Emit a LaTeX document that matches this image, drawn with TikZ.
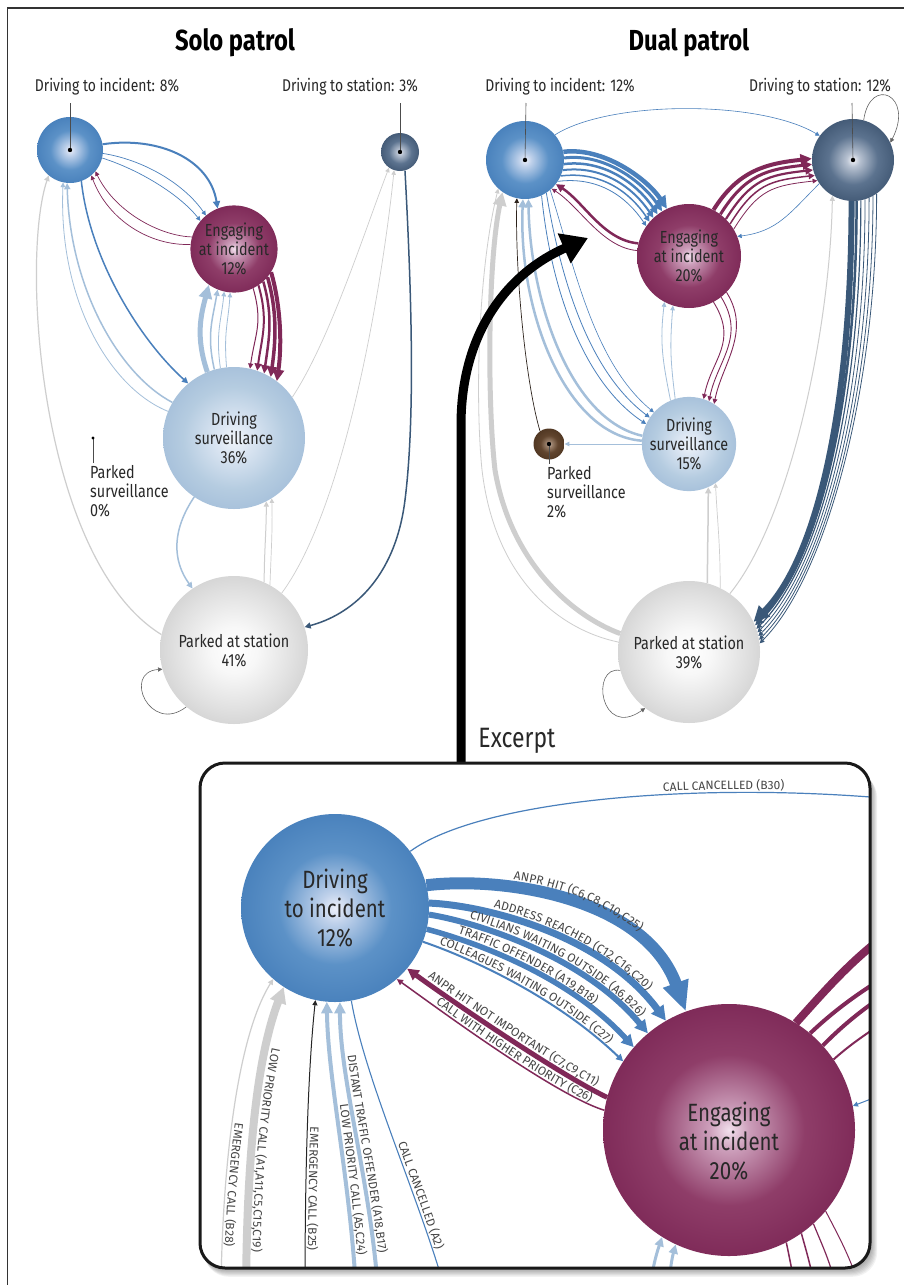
\documentclass[tikz,border=0pt]{standalone}
\usepackage{fontspec}
\setmainfont{Fira Sans}[FakeStretch=0.82]
\newfontfamily\labfont{Fira Sans}
\usetikzlibrary{arrows.meta,decorations.text}

\definecolor{cBlue}{RGB}{74,128,188}
\definecolor{cRed}{RGB}{128,40,88}
\definecolor{cSlate}{RGB}{58,88,120}
\definecolor{cLBlue}{RGB}{164,191,218}
\definecolor{cGray}{RGB}{206,206,206}
\definecolor{cDark}{RGB}{45,35,28}
\definecolor{cLoop}{RGB}{100,100,100}
\definecolor{cText}{RGB}{40,40,40}
\definecolor{cLab}{RGB}{70,70,70}

\pgfdeclareradialshading{diShade}{\pgfpoint{0bp}{0bp}}{rgb(0bp)=(0.93,0.94,0.98); rgb(4bp)=(0.75,0.82,0.92); rgb(15bp)=(0.36,0.57,0.78); rgb(25bp)=(0.29,0.51,0.74); rgb(50bp)=(0.29,0.51,0.74)}
\pgfdeclareradialshading{enShade}{\pgfpoint{0bp}{0bp}}{rgb(0bp)=(0.95,0.88,0.93); rgb(4bp)=(0.80,0.62,0.73); rgb(15bp)=(0.56,0.24,0.41); rgb(25bp)=(0.50,0.17,0.35); rgb(50bp)=(0.50,0.17,0.35)}
\pgfdeclareradialshading{dsShade}{\pgfpoint{0bp}{0bp}}{rgb(0bp)=(0.96,0.96,0.98); rgb(4bp)=(0.72,0.76,0.82); rgb(15bp)=(0.36,0.45,0.56); rgb(25bp)=(0.27,0.36,0.47); rgb(50bp)=(0.27,0.36,0.47)}
\pgfdeclareradialshading{svShade}{\pgfpoint{0bp}{0bp}}{rgb(0bp)=(0.94,0.96,0.98); rgb(6bp)=(0.86,0.90,0.95); rgb(18bp)=(0.71,0.80,0.88); rgb(25bp)=(0.66,0.76,0.86); rgb(50bp)=(0.66,0.76,0.86)}
\pgfdeclareradialshading{pkShade}{\pgfpoint{0bp}{0bp}}{rgb(0bp)=(1,1,1); rgb(8bp)=(0.97,0.97,0.97); rgb(20bp)=(0.88,0.88,0.88); rgb(25bp)=(0.84,0.84,0.84); rgb(50bp)=(0.84,0.84,0.84)}
\pgfdeclareradialshading{psShade}{\pgfpoint{0bp}{0bp}}{rgb(0bp)=(0.90,0.86,0.82); rgb(4bp)=(0.62,0.52,0.44); rgb(14bp)=(0.38,0.27,0.18); rgb(25bp)=(0.32,0.22,0.14); rgb(50bp)=(0.32,0.22,0.14)}

\newcommand\elf{\labfont\fontsize{12}{12}\selectfont}
\newcommand\nlf{\fontsize{17.5}{19}\selectfont}
\newcommand\nxf{\fontsize{25}{29}\selectfont}
\newcommand\lblf{\fontsize{17}{19}\selectfont}
\newcommand\ttlf{\fontsize{29}{32}\selectfont\bfseries}

\tikzset{
  st/.style={circle, inner sep=0pt, minimum size=#1, align=center, text=cText, font=\nlf},
  ed/.style={-{Triangle[length=3pt 2.1,width=3pt 2]}},
  edr/.style={{Triangle[length=3pt 2.1,width=3pt 2]}-},
  edx/.style={-{Triangle[length=4pt 1.5,width=4pt 1.5]}},
  tl/.style={postaction={decorate, decoration={text along path, text color=cLab, #1}}},
  lbl/.style={font=\lblf, text=cText},
  pin/.style={line width=0.6pt, black!70},
}

\begin{document}
\begin{tikzpicture}[x=1pt,y=-1pt]
\useasboundingbox (0,0) rectangle (904,1285);
\fill[white] (0,0) rectangle (904,1285);
\draw[line width=1.3pt, black!80] (7.5,1290) -- (7.5,8) -- (910,8);

% ---------------- titles and labels
\node[font=\ttlf] (t1) at (235,43) {Solo patrol};
\node[font=\ttlf] (t2) at (689,43) {Dual patrol};
\node[lbl] (s-dil) at (107,87) {Driving to incident: 8\%};
\node[lbl] (s-dsl) at (350,87) {Driving to station: 3\%};
\node[lbl] (d-dil) at (560,87) {Driving to incident: 12\%};
\node[lbl] (d-dsl) at (820,87) {Driving to station: 12\%};
\coordinate (s-dip) at (70,103);
\coordinate (s-dsp) at (400,103);
\coordinate (d-dip) at (526,103);
\coordinate (d-dsp) at (852,103);

% ---------------- solo nodes
\node[st=66pt, shading=diShade] (s-di) at (70,150) {};
\node[st=38pt, shading=dsShade] (s-ds) at (400,152) {};
\node[st=83pt, shading=enShade] (s-en) at (234,249) {Engaging\\at incident\\12\%};
\node[st=142pt, shading=svShade] (s-sv) at (234,438) {Driving\\surveillance\\36\%};
\node[st=148pt, shading=pkShade] (s-pk) at (234,650) {Parked at station\\41\%};
\coordinate (s-ps) at (93,438);
\coordinate (s-psb) at (93,463);
\node[lbl, font=\nlf, anchor=north west, align=left, inner sep=0pt] (s-pst) at (90,465) {Parked\\surveillance\\0\%};

% ---------------- dual nodes
\node[st=78pt, shading=diShade] (d-di) at (525,160) {};
\node[st=82pt, shading=dsShade] (d-ds) at (853,160) {};
\node[st=104pt, shading=enShade] (d-en) at (689,256) {Engaging\\at incident\\20\%};
\node[st=92pt, shading=svShade] (d-sv) at (689,444) {Driving\\surveillance\\15\%};
\node[st=31pt, shading=psShade] (d-ps) at (549,444) {};
\node[st=142pt, shading=pkShade] (d-pk) at (689,652) {Parked at station\\39\%};
\coordinate (d-psb) at (549,464);
\node[lbl, font=\nlf, anchor=north west, align=left, inner sep=0pt] (d-pst) at (547,466) {Parked\\surveillance\\2\%};

% ---------------- solo edges
\draw[ed, cBlue, line width=2pt] (s-di.10) .. controls (160,136) and (210,160) .. (s-en.112);
\draw[ed, cBlue, line width=0.7pt] (s-di.-6) .. controls (145,160) and (185,185) .. (s-en.130);
\draw[ed, cBlue, line width=0.7pt] (s-di.-14) .. controls (140,170) and (180,195) .. (s-en.140);
\draw[ed, cRed, line width=0.7pt] (s-en.164) .. controls (160,236) and (115,212) .. (s-di.-40);
\draw[ed, cRed, line width=0.7pt] (s-en.174) .. controls (150,246) and (108,220) .. (s-di.-50);
\draw[ed, cBlue, line width=1.5pt] (s-di.-70) .. controls (90,260) and (140,340) .. (s-sv.130);
\draw[ed, cLBlue, line width=1.5pt] (s-sv.150) .. controls (120,375) and (70,290) .. (s-di.-95);
\draw[ed, cLBlue, line width=0.8pt] (s-sv.158) .. controls (110,388) and (58,300) .. (s-di.-102);
\draw[ed, cGray, line width=1.2pt] (s-pk.168) .. controls (40,560) and (20,260) .. (s-di.-130);
\draw[ed, cLBlue, line width=5pt] (s-sv.112) .. controls +(-12,-35) and +(-8,30) .. (s-en.-125);
\draw[ed, cLBlue, line width=1.5pt] (s-sv.106) .. controls +(-8,-35) and +(-5,30) .. (s-en.-112);
\draw[ed, cLBlue, line width=0.8pt] (s-sv.101) .. controls +(-5,-35) and +(-3,30) .. (s-en.-103);
\draw[ed, cLBlue, line width=0.8pt] (s-sv.96) .. controls +(-3,-35) and +(-2,30) .. (s-en.-95);
\foreach \a/\b/\w in {-64/77/1, -56/71/2, -48/65/2.5, -40/59/3.5, -32/53/4}{
  \draw[ed, cRed, line width=\w*1pt] (s-en.\a) .. controls +(10,35) and +(5,-35) .. (s-sv.\b);}
\draw[ed, cSlate, line width=1.5pt] (s-ds.-75) .. controls (412,300) and (415,420) .. (405,500) .. controls (395,580) and (350,615) .. (s-pk.18);
\draw[ed, cGray, line width=0.7pt] (s-sv.35) .. controls (330,340) and (365,230) .. (s-ds.-125);
\draw[ed, cGray, line width=0.7pt] (s-pk.50) .. controls (350,500) and (385,260) .. (s-ds.-108);
\draw[ed, cLBlue, line width=1.5pt] (s-sv.-124) .. controls (172,530) and (172,560) .. (s-pk.124);
\draw[ed, cGray, line width=1pt] (s-pk.66) .. controls +(0,-30) and +(0,30) .. (s-sv.-63);
\draw[ed, cGray, line width=0.7pt] (s-pk.61) .. controls +(1,-30) and +(1,30) .. (s-sv.-58);
\draw[ed, cLoop, line width=0.6pt] (s-pk.-130) .. controls (150,735) and (122,672) .. (s-pk.195);

% ---------------- dual edges
\draw[ed, cBlue, line width=0.6pt] (d-di.40) .. controls (610,100) and (760,100) .. (d-ds.144);
\draw[ed, cLoop, line width=0.6pt] (d-ds.75) .. controls (870,75) and (915,95) .. (d-ds.25);
\foreach \a/\b/\w in {12/115/4.5, 3/121/3, -6/127/2.5, -15/133/2, -24/139/1.5, -33/145/0.8}{
  \draw[ed, cBlue, line width=\w*1pt] (d-di.\a) .. controls +(40,-5) and +(-20,-30) .. (d-en.\b);}
\draw[ed, cRed, line width=2.5pt] (d-en.166) .. controls +(-35,-3) and +(28,18) .. (d-di.-38);
\draw[ed, cRed, line width=0.8pt] (d-en.174) .. controls +(-35,-3) and +(28,18) .. (d-di.-47);
\foreach \a/\b/\w in {62/178/4, 53/186/3, 45/194/2.2, 38/202/1.5, 31/210/0.8}{
  \draw[ed, cRed, line width=\w*1pt] (d-en.\a) .. controls +(25,-40) and +(-45,5) .. (d-ds.\b);}
\draw[ed, cBlue, line width=0.6pt] (d-ds.-145) .. controls +(-30,30) and +(40,-5) .. (d-en.22);
\draw[ed, cBlue, line width=0.8pt] (d-di.-65) .. controls +(10,100) and +(-60,-40) .. (d-sv.155);
\draw[ed, cBlue, line width=0.8pt] (d-di.-57) .. controls +(15,90) and +(-60,-45) .. (d-sv.146);
\draw[ed, cBlue, line width=0.6pt] (d-di.-50) .. controls +(25,80) and +(-60,-50) .. (d-sv.138);
\draw[ed, cLBlue, line width=2.5pt] (d-sv.170) .. controls (570,420) and (530,300) .. (d-di.-85);
\draw[ed, cLBlue, line width=2.5pt] (d-sv.176) .. controls (565,435) and (518,310) .. (d-di.-93);
\draw[ed, cDark, line width=0.7pt] (d-ps.125) .. controls (525,380) and (515,270) .. (d-di.-102);
\draw[ed, cGray, line width=5pt] (d-pk.165) .. controls (570,615) and (510,560) .. (495,470) .. controls (487,400) and (488,260) .. (d-di.-125);
\draw[ed, cGray, line width=0.8pt] (d-pk.172) .. controls (560,630) and (495,580) .. (482,470) .. controls (475,400) and (478,270) .. (d-di.-133);
\foreach \a/\b/\w in {-92/25/6, -85/22/2.5, -79/19/1.2, -73/16/0.8, -67/13/0.8, -61/10/0.8, -55/7/0.8}{
  \draw[ed, cSlate, line width=\w*1pt] (d-ds.\a) .. controls +(0,200) and +(65,-65) .. (d-pk.\b);}
\draw[ed, cGray, line width=1pt] (d-pk.55) .. controls (790,520) and (830,330) .. (d-ds.-120);
\draw[ed, cGray, line width=1.5pt] (d-pk.75) .. controls +(0,-40) and +(0,40) .. (d-sv.-66);
\draw[ed, cGray, line width=0.7pt] (d-pk.64) .. controls +(0,-45) and +(2,40) .. (d-sv.-56);
\draw[ed, cLBlue, line width=0.8pt] (d-sv.113) .. controls +(-8,-40) and +(-5,40) .. (d-en.-118);
\draw[ed, cLBlue, line width=0.8pt] (d-sv.107) .. controls +(-5,-40) and +(-3,40) .. (d-en.-108);
\foreach \a/\b in {-62/72, -52/65, -44/58}{
  \draw[ed, cRed, line width=0.9pt] (d-en.\a) .. controls +(25,40) and +(8,-40) .. (d-sv.\b);}
\draw[ed, cLBlue, line width=0.8pt] (d-sv.180) -- (d-ps.0);
\draw[ed, cLoop, line width=0.6pt] (d-pk.195) .. controls (590,665) and (600,740) .. (d-pk.-128);

% pins and dots
\draw[pin] (s-dip) -- (s-di.center);
\draw[pin] (s-dsp) -- (s-ds.center);
\draw[pin] (d-dip) -- (d-di.center);
\draw[pin] (d-dsp) -- (d-ds.center);
\draw[pin] (s-ps) -- (s-psb);
\draw[pin] (d-ps.center) -- (d-psb);
\foreach \n in {s-di,s-ds,d-di,d-ds,d-ps}{\fill[black] (\n.center) circle (2.2);}
\fill[black] (s-ps) circle (1.6);

% ---------------- big arrow and excerpt label
\coordinate (arrS) at (461,767);
\coordinate (arrM) at (461,425);
\coordinate (arrE) at (588,238);
\draw[line width=9pt, black, -{Triangle[length=26pt,width=31pt]}] (arrS) -- (arrM) .. controls (461,330) and (510,272) .. (arrE);
\node[font=\fontsize{28}{30}\selectfont, text=cText] (exc) at (517,741) {Excerpt};

% ---------------- excerpt box
\foreach \i in {1,...,8}{\fill[black, opacity=0.05, rounded corners=25pt] (200+0.5*\i,763+1.2*\i) rectangle (870+0.9*\i,1268+1.1*\i);}
\fill[white, rounded corners=25pt] (200,763) rectangle (870,1268);
\begin{scope}
\clip[rounded corners=25pt] (200,763) rectangle (870,1268);
\node[st=188pt, shading=diShade, font=\nxf] (e-di) at (335,908) {Driving\\to incident\\12\%};
\node[st=252pt, shading=enShade] (e-en) at (729,1130) {};
\node[font=\nxf, text=cText, align=center] (e-ent) at (729,1141) {Engaging\\at incident\\20\%};
\coordinate (eT) at (905,800);
\coordinate (eb1) at (221,1290);
\coordinate (eb2) at (246,1290);
\coordinate (eb3) at (305,1290);
\coordinate (eb4) at (356,1290);
\coordinate (eb5) at (378,1290);
\coordinate (eb6) at (445,1290);
\coordinate (er1) at (905,922);
\coordinate (er2) at (905,965);
\coordinate (er3) at (905,982);
\coordinate (er4) at (905,1008);
\coordinate (eR) at (905,1086);
\coordinate (ed1) at (795,1290);
\coordinate (ed2) at (815,1290);
\coordinate (ed3) at (836,1290);
\coordinate (ed4) at (860,1290);
\coordinate (eu1) at (650,1290);
\coordinate (eu2) at (668,1290);

\draw[cBlue, line width=1.2pt, tl={text={|\elf|CALL CANCELLED (B30)}, raise=3pt, text align={align=left, left indent=262pt}}] (e-di.37) .. controls (480,800) and (700,780) .. (eT);
\draw[-{Triangle[length=30pt,width=25pt]}, cBlue, line width=12pt, tl={text={|\elf|ANPR HIT (C6,C8,C10,C25)}, raise=8pt, text align={align=left, left indent=86pt}}] (e-di.14) .. controls (505,876) and (645,898) .. (e-en.110);
\draw[edx, cBlue, line width=7pt, tl={text={|\elf|ADDRESS REACHED (C12,C16,C20)}, raise=5.5pt, text align={align=left, left indent=64pt}}] (e-di.3) .. controls (480,905) and (600,932) .. (e-en.120);
\draw[edx, cBlue, line width=6pt, tl={text={|\elf|CIVILIANS WAITING OUTSIDE (A6,B26)}, raise=5pt, text align={align=left, left indent=40pt}}] (e-di.-4) .. controls (475,922) and (583,955) .. (e-en.130);
\draw[edx, cBlue, line width=5.5pt, tl={text={|\elf|TRAFFIC OFFENDER (A19,B18)}, raise=4.5pt, text align={align=left, left indent=31pt}}] (e-di.-13) .. controls (468,940) and (566,973) .. (e-en.139);
\draw[edx, cBlue, line width=2pt, tl={text={|\elf|COLLEAGUES WAITING OUTSIDE (C27)}, raise=3pt, text align={align=left, left indent=16pt}}] (e-di.-21) .. controls (462,955) and (552,993) .. (e-en.147);
\draw[{Triangle[length=4pt 1.5,width=4pt 1.5]}-, cRed, line width=5pt, tl={text={|\elf|ANPR HIT NOT IMPORTANT (C7,C9,C11)}, raise=4.5pt, text align={align=left, left indent=22pt}}] (e-di.-40) .. controls (450,1000) and (560,1075) .. (e-en.165);
\draw[edr, cRed, line width=1.5pt, tl={text={|\elf|CALL WITH HIGHER PRIORITY (C26)}, raise=2.5pt, text align={align=left, left indent=46pt}}] (e-di.-49) .. controls (440,1010) and (555,1095) .. (e-en.171);

\draw[edr, cGray, line width=1.2pt, tl={text={|\elf|EMERGENCY CALL (B28)}, raise=3pt, text align={align=left, left indent=150pt}}] (e-di.-131) .. controls (235,1040) and (222,1180) .. (eb1);
\draw[{Triangle[length=4pt 1.5,width=4pt 1.5]}-, cGray, line width=8pt, tl={text={|\elf|LOW PRIORITY CALL (A1,A11,C5,C15,C19)}, raise=6pt, text align={align=left, left indent=62pt}}] (e-di.-123) .. controls (256,1060) and (247,1160) .. (eb2);
\draw[edr, black!85, line width=1pt, tl={text={|\elf|EMERGENCY CALL (B25)}, raise=3pt, text align={align=left, left indent=127pt}}] (e-di.-102) .. controls (308,1070) and (305,1170) .. (eb3);
\draw[edr, cLBlue, line width=4pt, tl={text={|\elf|LOW PRIORITY CALL (A5,C24)}, raise=4pt, text align={align=left, left indent=104pt}}] (e-di.-95) .. controls (328,1080) and (350,1180) .. (eb4);
\draw[edr, cLBlue, line width=4pt, tl={text={|\elf|DISTANT TRAFFIC OFFENDER (A18,B17)}, raise=4pt, text align={align=left, left indent=54pt}}] (e-di.-87) .. controls (340,1080) and (370,1180) .. (eb5);
\draw[cBlue, line width=1.1pt, tl={text={|\elf|CALL CANCELLED (A2)}, raise=3pt, text align={align=left, left indent=150pt}}] (e-di.-80) .. controls (365,1080) and (420,1200) .. (eb6);

\draw[cRed, line width=8pt] (e-en.58) .. controls (830,985) and (860,950) .. (er1);
\draw[cRed, line width=4pt] (e-en.50) .. controls (840,1005) and (870,985) .. (er2);
\draw[cRed, line width=4pt] (e-en.42) .. controls (850,1018) and (875,1000) .. (er3);
\draw[cRed, line width=2pt] (e-en.34) .. controls (855,1040) and (880,1025) .. (er4);
\draw[ed, cBlue, line width=1pt] (eR) -- (e-en.11);
\draw[cRed, line width=1.5pt] (e-en.-63) .. controls (790,1260) and (793,1275) .. (ed1);
\draw[cRed, line width=1.5pt] (e-en.-55) .. controls (806,1250) and (812,1270) .. (ed2);
\draw[cRed, line width=1.2pt] (e-en.-48) .. controls (822,1245) and (832,1265) .. (ed3);
\draw[cRed, line width=1pt] (e-en.-40) .. controls (838,1235) and (852,1260) .. (ed4);
\draw[ed, cLBlue, line width=3pt] (eu1) .. controls (652,1270) and (656,1255) .. (e-en.-122);
\draw[ed, cLBlue, line width=3pt] (eu2) .. controls (670,1270) and (672,1258) .. (e-en.-115);
\end{scope}
\draw[line width=3pt, rounded corners=25pt, black!90] (200,763) rectangle (870,1268);
\end{tikzpicture}
\end{document}
